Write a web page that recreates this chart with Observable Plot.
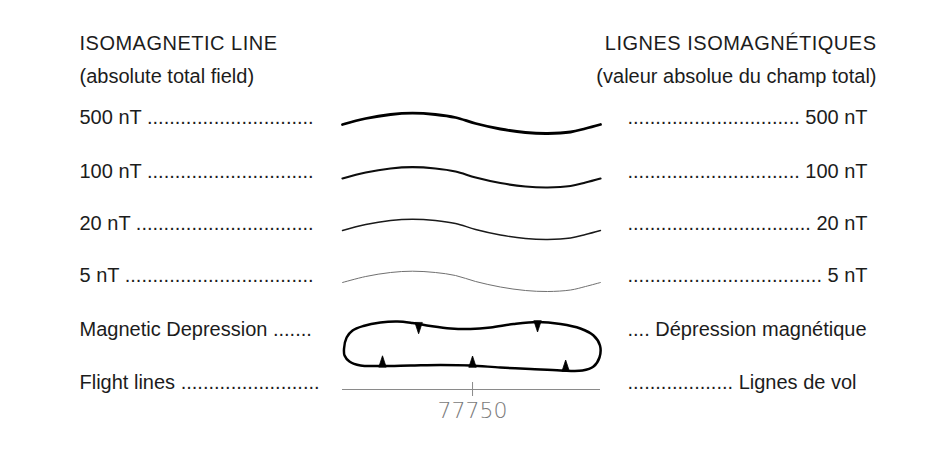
<!DOCTYPE html>
<html>
<head>
<meta charset="utf-8">
<script src="https://cdn.jsdelivr.net/npm/d3@7"></script>
<script src="https://cdn.jsdelivr.net/npm/@observablehq/plot@0.6"></script>
<style>
  html, body { margin: 0; padding: 0; background: #fff; }
  #chart svg { display: block; }
  #chart text.caps { letter-spacing: 0.5px; }
</style>
</head>
<body>
<div id="chart"></div>
<script>
// ---------------- data ----------------
const titlesLeft  = ["ISOMAGNETIC LINE", "(absolute total field)"];
const titlesRight = ["LIGNES ISOMAGNÉTIQUES", "(valeur absolue du champ total)"];

const labelsLeft  = ["500 nT", "100 nT", "20 nT", "5 nT", "Magnetic Depression", "Flight lines"];
const labelsRight = ["500 nT", "100 nT", "20 nT", "5 nT", "Dépression magnétique", "Lignes de vol"];
const leaderDotsLeft  = [30, 30, 32, 34, 7, 25];
const leaderDotsRight = [31, 31, 33, 35, 4, 19];

// isomagnetic contour levels shown as swatches
const contourLevels = ["500 nT", "100 nT", "20 nT", "5 nT"];

// contour swatch profile: fraction along swatch, vertical offset
const waveAlong  = [0, 0.09, 0.186, 0.271, 0.36, 0.438, 0.516, 0.612, 0.709, 0.795, 0.884, 0.942, 1];
const waveOffset = [1, -5, -9, -10.3, -9, -6, 0, 5.5, 9, 10, 8.5, 5, 1];

// magnetic depression outline: fraction along swatch, vertical offset
const depAlong  = [0.006, 0.016, 0.039, 0.081, 0.147, 0.213, 0.271, 0.341, 0.419, 0.496, 0.574, 0.663, 0.756, 0.845, 0.922, 0.973, 0.998, 0.996, 0.973, 0.930, 0.845, 0.729, 0.612, 0.496, 0.380, 0.264, 0.147, 0.070, 0.027, 0.008];
const depOffset = [13, 2, -5, -9.5, -13, -14, -12.5, -9.5, -7, -6.5, -8, -11.5, -13.5, -11.5, -7, 0, 10, 22, 31, 35, 35, 33.5, 32, 30, 29.5, 30, 30.5, 30, 26, 20];

// hachure ticks on the depression (pointing inward)
const hachureAlong  = [0.295, 0.756, 0.155, 0.504, 0.865];
const hachureOffset = [-11.7, -13.5, 30.3, 30.5, 34.5];
const hachureDir    = [1, 1, -1, -1, -1];

// flight line with fiducial
const flightTickAlong = [0.504];
const flightLabel = ["77750"];

// ---------------- layout ----------------
const W = 946, H = 455;
const leftX = 79, rightStartX = 627, rightEndX = 876;
const swX0 = 342, swX1 = 600;
const titleY = [49, 82];
const rowY = [123, 177, 229, 281, 335, 388];
const sx = a => swX0 + a * (swX1 - swX0);

const waveStyles = [
  {stroke: "#000", strokeWidth: 2.8},
  {stroke: "#0d0d0d", strokeWidth: 2.2},
  {stroke: "#1a1a1a", strokeWidth: 1.4},
  {stroke: "#707070", strokeWidth: 1.0}
];

const wavePts = contourLevels.flatMap((lev, i) =>
  waveAlong.map((a, j) => ({level: lev, x: sx(a), y: rowY[i] + waveOffset[j]})));

const depPts = depAlong.map((a, j) => ({x: sx(a), y: rowY[4] + depOffset[j]}));

const hachPts = hachureAlong.flatMap((a, k) => {
  const cx = sx(a), by = rowY[4] + hachureOffset[k] - hachureDir[k] * 1, d = hachureDir[k];
  return [
    {id: k, x: cx - 3.6, y: by},
    {id: k, x: cx, y: by + d * 11},
    {id: k, x: cx + 3.6, y: by}
  ];
});

const flightY = rowY[5] + 1;

const leftRows = labelsLeft.map((l, i) => ({text: l + " " + ".".repeat(leaderDotsLeft[i]), y: rowY[i]}));
const rightRows = labelsRight.map((l, i) => ({text: ".".repeat(leaderDotsRight[i]) + " " + l, y: rowY[i]}));

const font = "'Liberation Sans', Arial, Helvetica, sans-serif";

const marks = [
  Plot.text(titlesLeft, {x: leftX, y: (d, i) => titleY[i], text: d => d, textAnchor: "start", lineAnchor: "bottom", fontSize: 20, fill: "#1c1c1c"}),
  Plot.text(titlesRight, {x: rightEndX, y: (d, i) => titleY[i], text: d => d, textAnchor: "end", lineAnchor: "bottom", fontSize: 20, fill: "#1c1c1c"}),
  Plot.text(leftRows, {x: leftX, y: "y", text: "text", textAnchor: "start", lineAnchor: "bottom", fontSize: 20, fill: "#1c1c1c"}),
  Plot.text(rightRows, {x: rightStartX, y: "y", text: "text", textAnchor: "start", lineAnchor: "bottom", fontSize: 20, fill: "#1c1c1c"}),
  ...contourLevels.map((lev, i) =>
    Plot.line(wavePts.filter(p => p.level === lev), {x: "x", y: "y", curve: "catmull-rom", ...waveStyles[i], strokeLinecap: "round"})),
  Plot.line(depPts, {x: "x", y: "y", curve: "catmull-rom-closed", stroke: "#000", strokeWidth: 2.5}),
  Plot.line(hachPts, {x: "x", y: "y", z: "id", curve: "linear-closed", fill: "#000", stroke: "#000", strokeWidth: 0.8}),
  Plot.ruleY([flightY], {x1: swX0, x2: swX1, stroke: "#8a8a8a", strokeWidth: 1}),
  Plot.ruleX(flightTickAlong, {x: a => sx(a), y1: flightY - 7, y2: flightY + 7, stroke: "#8a8a8a", strokeWidth: 1}),
  Plot.text(flightLabel, {x: sx(flightTickAlong[0]), y: flightY + 28, text: d => d, textAnchor: "middle", lineAnchor: "bottom", fontSize: 22, fontFamily: "'DejaVu Sans', sans-serif", fontWeight: 200, fill: "#7a7a7a"})
];

const chart = Plot.plot({
  width: W, height: H,
  margin: 0,
  x: {domain: [0, W], range: [0, W], axis: null},
  y: {domain: [0, H], range: [0, H], axis: null},
  style: {fontFamily: font, background: "#fff", overflow: "visible"},
  marks
});
// first title line on each side is set in capitals with slight tracking
d3.select(chart).selectAll("g[aria-label='text']").filter((d, i) => i < 2)
  .selectAll("text").filter((d, i) => i === 0).classed("caps", true);
document.getElementById("chart").appendChild(chart);
</script>
</body>
</html>
